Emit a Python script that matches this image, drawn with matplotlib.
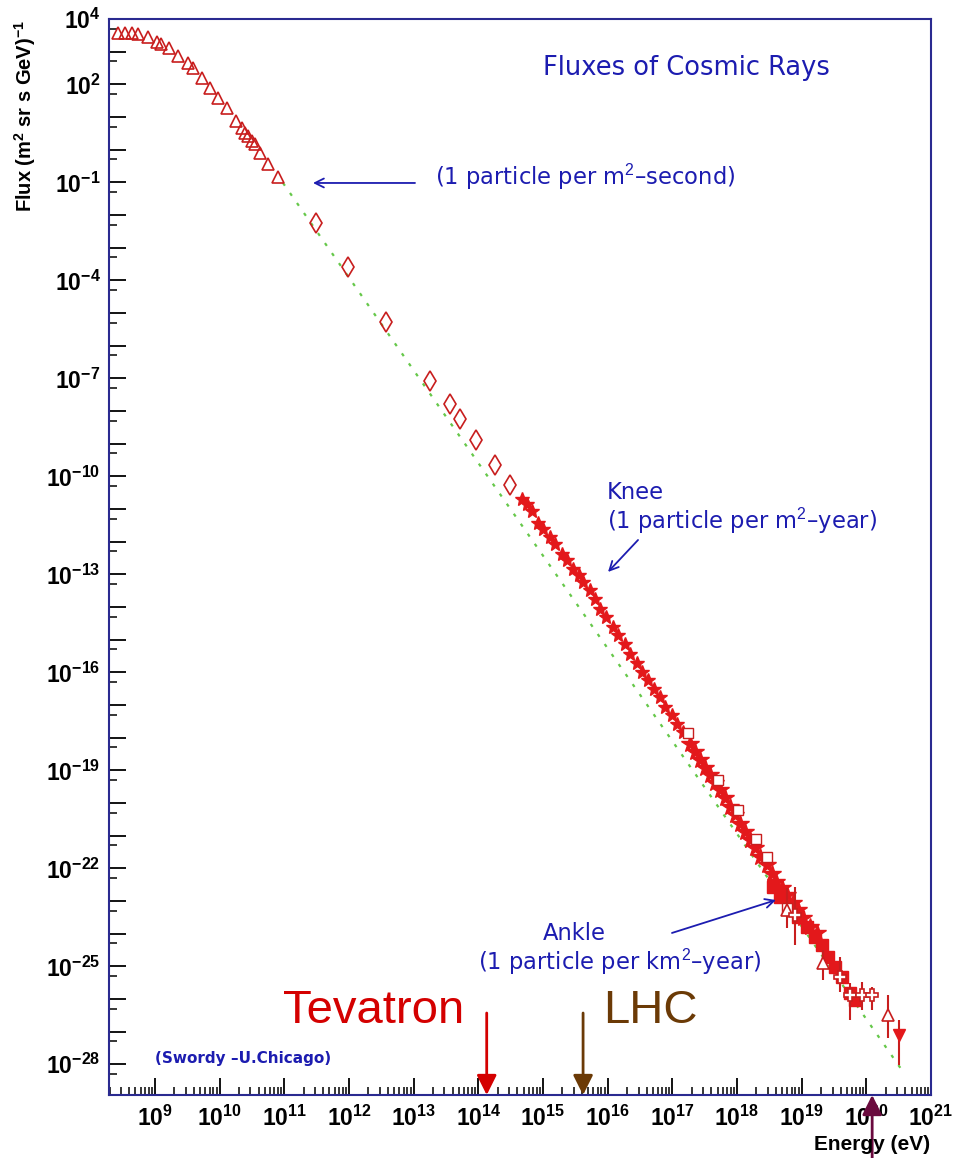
# Cosmic ray flux spectrum (Swordy style) with accelerator energies marked
import numpy as np
import matplotlib
matplotlib.use("Agg")
import matplotlib.pyplot as plt
from matplotlib.ticker import FixedLocator, LogLocator, FuncFormatter, NullFormatter

plt.rcParams['mathtext.fontset'] = 'custom'
plt.rcParams['mathtext.rm'] = 'Liberation Sans'
plt.rcParams['mathtext.it'] = 'Liberation Sans:italic'
plt.rcParams['mathtext.bf'] = 'Liberation Sans:bold'

# Data (log10 of energy in eV, log10 of flux) =====================================================
tri_logE = [8.43, 8.54, 8.64, 8.74, 8.90, 9.03, 9.10, 9.21, 9.36, 9.51, 9.59, 9.72, 9.85, 9.98,
            10.11, 10.26, 10.34, 10.39, 10.44, 10.50, 10.55, 10.62, 10.75, 10.91]
tri_logF = [3.58, 3.58, 3.56, 3.53, 3.45, 3.31, 3.23, 3.12, 2.87, 2.66, 2.51, 2.20, 1.90, 1.59,
            1.29, 0.88, 0.67, 0.52, 0.42, 0.27, 0.17, -0.09, -0.44, -0.85]

dia_logE = [11.49, 11.99, 12.57, 13.25, 13.56, 13.72, 13.96, 14.26, 14.49]
dia_logF = [-2.25, -3.58, -5.27, -7.07, -7.78, -8.26, -8.88, -9.64, -10.28]

star_logE = [14.67, 14.75, 14.83, 14.93, 15.00, 15.11, 15.19, 15.29, 15.37, 15.47, 15.55, 15.62,
             15.73, 15.80, 15.88, 15.98, 16.09, 16.16, 16.27, 16.35, 16.45, 16.53, 16.63, 16.71,
             16.81, 16.89, 16.99, 17.07, 17.17]
star_logF = [-10.69, -10.84, -11.05, -11.43, -11.61, -11.86, -12.06, -12.37, -12.57, -12.83,
             -13.03, -13.24, -13.49, -13.75, -14.05, -14.31, -14.61, -14.87, -15.12, -15.43,
             -15.73, -15.99, -16.24, -16.50, -16.76, -17.06, -17.31, -17.57, -17.83]

band_logE = [17.27, 17.35, 17.43, 17.50, 17.58, 17.66, 17.74, 17.81, 17.89, 17.97, 18.05, 18.12,
             18.20, 18.28, 18.36, 18.46, 18.54, 18.61, 18.69, 18.77, 18.87, 18.95, 19.02, 19.13,
             19.23]
band_logF = [-18.18, -18.44, -18.69, -18.94, -19.15, -19.40, -19.61, -19.86, -20.12, -20.37,
             -20.63, -20.88, -21.14, -21.39, -21.65, -21.90, -22.16, -22.41, -22.61, -22.82,
             -23.07, -23.28, -23.53, -23.79, -23.99]

band2_logE = [18.56, 18.66, 18.82, 18.95, 19.08, 19.21, 19.31, 19.41, 19.51, 19.62, 19.75, 19.82]
band2_logF = [-22.57, -22.87, -23.18, -23.48, -23.79, -24.09, -24.35, -24.71, -25.01, -25.32,
              -25.83, -26.03]

sq_logE = [17.25, 17.71, 18.02, 18.30, 18.46, 18.77]
sq_logF = [-17.87, -19.30, -20.22, -21.09, -21.65, -23.23]

ebtri_logE = [18.77, 19.33, 20.34]
ebtri_logF = [-23.28, -24.91, -26.49]
ebtri_lo = [-23.83, -25.42, -27.19]
ebtri_hi = [-22.61, -24.50, -25.88]

ebx_logE = [18.90, 19.59, 19.75, 19.93, 20.08]
ebx_logF = [-23.43, -25.32, -25.88, -25.88, -25.88]
ebx_lo = [-24.35, -25.78, -26.64, -26.34, -26.34]
ebx_hi = [-22.57, -24.71, -25.51, -25.47, -25.62]

last_logE = [20.51]
last_logF = [-27.10]
last_lo = [-28.02]
last_hi = [-26.64]

line_logE = [10.98, 20.6]
line_logF = [-1.02, -28.32]

accel_names = ['Tevatron', 'LHC']
accel_logE = [14.13, 15.62]
accel_colors = ['#d40000', '#6b3a06']
uhe_logE = 20.09

ylabel_decades = [4, 2, -1, -4, -7, -10, -13, -16, -19, -22, -25, -28]

# Styling =========================================================================================
red = '#e3181b'
dark_red = '#c81e1e'
blue = '#1c1cb0'
frame = '#2a2a90'


def p(vals):
    return 10.0 ** np.array(vals)


def errs(mid, lo, hi):
    m = p(mid)
    return [m - p(lo), p(hi) - m]


fig = plt.figure(figsize=(9.6, 11.58), dpi=100)
ax = fig.add_axes([0.1135, 0.0544, 0.8563, 0.9292])
ax.set_xscale('log')
ax.set_yscale('log')
ax.set_xlim(10 ** 8.289, 1e21)
ax.set_ylim(10 ** -28.94, 1e4)

ax.plot(p(line_logE), p(line_logF), color='#66c84a', lw=1.6, ls=(0, (1.5, 4)), zorder=1)

ax.plot(p(tri_logE), p(tri_logF), ls='none', marker='^', ms=9, mfc='none', mec=dark_red, mew=1.2, zorder=3)
ax.plot(p(dia_logE), p(dia_logF), ls='none', marker='d', ms=10, mfc='none', mec=dark_red, mew=1.2, zorder=3)
ax.plot(p(star_logE), p(star_logF), ls='none', marker='*', ms=10, color=red, zorder=3)
ax.plot(p(band_logE), p(band_logF), ls='none', marker='*', ms=13, color=red, zorder=3)
ax.plot(p(band2_logE), p(band2_logF), ls='none', marker='s', ms=8, color=red, zorder=3)
ax.plot(p(sq_logE), p(sq_logF), ls='none', marker='s', ms=7, mfc='white', mec=dark_red, mew=1.0, zorder=4)
ax.errorbar(p(ebtri_logE), p(ebtri_logF), yerr=errs(ebtri_logF, ebtri_lo, ebtri_hi), fmt='^', ms=9,
            mfc='white', mec=dark_red, mew=1.2, ecolor=dark_red, elinewidth=1.5, capsize=0, zorder=4)
ax.errorbar(p(ebx_logE), p(ebx_logF), yerr=errs(ebx_logF, ebx_lo, ebx_hi), fmt='P', ms=9,
            mfc='white', mec=dark_red, mew=1.2, ecolor=dark_red, elinewidth=1.5, capsize=0, zorder=4)
ax.errorbar(p(last_logE), p(last_logF), yerr=errs(last_logF, last_lo, last_hi), fmt='v', ms=8,
            color=red, ecolor=dark_red, elinewidth=1.5, capsize=0, zorder=4)

# Axes look (ROOT style) ==========================================================================
for s in ax.spines.values():
    s.set_color(frame)
    s.set_linewidth(1.5)

ax.xaxis.set_major_locator(FixedLocator(10.0 ** np.arange(9, 22)))
ax.xaxis.set_minor_locator(LogLocator(base=10, subs=np.arange(2, 10), numticks=200))
ax.xaxis.set_major_formatter(FuncFormatter(lambda v, pos: r'$\mathbf{10^{%d}}$' % round(np.log10(v))))
ax.xaxis.set_minor_formatter(NullFormatter())

ax.yaxis.set_major_locator(FixedLocator(10.0 ** np.arange(-28, 5)))
ax.yaxis.set_minor_locator(LogLocator(base=10, subs=[5], numticks=200))


def ylab(v, pos):
    k = int(round(np.log10(v)))
    return r'$\mathbf{10^{%d}}$' % k if k in ylabel_decades else ''


ax.yaxis.set_major_formatter(FuncFormatter(ylab))
ax.yaxis.set_minor_formatter(NullFormatter())
ax.tick_params(which='major', direction='in', length=12, width=1.3, color='black', labelsize=16.5, pad=6)
ax.tick_params(which='minor', direction='in', length=6, width=1.1, color='black')
ax.tick_params(axis='x', pad=8)

fig.text(0.026, 1 - 20 / 1158, r'Flux (m$^\mathbf{2}$ sr s GeV)$^{\mathbf{-1}}$', rotation=90,
         ha='center', va='top', fontsize=14.5, fontweight='bold', family='Liberation Sans')
fig.text(0.969, 1 - 1145 / 1158, 'Energy (eV)', ha='right', va='center', fontsize=15,
         fontweight='bold', family='Liberation Sans')

# Annotations =====================================================================================
tkw = dict(transform=ax.transAxes, color=blue, family='DejaVu Sans', va='center')
ax.text(0.528, 0.9545, 'Fluxes of Cosmic Rays', fontsize=18.5, **tkw)
ax.text(0.3966, 0.8532, '(1 particle per m$^2$\u2013second)', fontsize=16.3, **tkw)
ax.text(0.6058, 0.5604, 'Knee', fontsize=16.3, **tkw)
ax.text(0.6058, 0.5335, '(1 particle per m$^2$\u2013year)', fontsize=16.3, **tkw)
ax.text(0.5280, 0.1505, 'Ankle', fontsize=16.3, **tkw)
ax.text(0.4489, 0.1236, '(1 particle per km$^2$\u2013year)', fontsize=16.3, **tkw)
ax.text(0.0560, 0.0335, '(Swordy \u2013U.Chicago)', fontsize=11, fontweight='bold', **tkw)

akw = dict(arrowstyle='->', color=blue, lw=1.3, mutation_scale=16, shrinkA=0, shrinkB=0)
ax.annotate('', xy=(0.2482, 0.8476), xytext=(0.3723, 0.8476), xycoords='axes fraction', arrowprops=akw)
ax.annotate('', xy=(0.6071, 0.4861), xytext=(0.6436, 0.5158), xycoords='axes fraction', arrowprops=akw)
ax.annotate('', xy=(0.8114, 0.1812), xytext=(0.6849, 0.1506), xycoords='axes fraction', arrowprops=akw)

# accelerator markers
xtr = ax.get_xaxis_transform()
text_x = [0.2117, 0.601]
for name, le, c, tx in zip(accel_names, accel_logE, accel_colors, text_x):
    ax.annotate('', xy=(10 ** le, 0.0), xytext=(10 ** le, 0.0762), xycoords=xtr, textcoords=xtr,
                arrowprops=dict(arrowstyle='-|>', color=c, lw=2, mutation_scale=30, shrinkA=0, shrinkB=0),
                annotation_clip=False)
    ax.text(tx, 0.0669, name, transform=ax.transAxes, color=c, fontsize=34,
            family='Liberation Sans', va='baseline', ha='left')

ax.annotate('', xy=(10 ** uhe_logE, 0.0), xytext=(10 ** uhe_logE, -0.0586), xycoords=xtr, textcoords=xtr,
            arrowprops=dict(arrowstyle='-|>', color='#6a0a3e', lw=2, mutation_scale=30, shrinkA=0, shrinkB=0),
            annotation_clip=False, zorder=10)

fig.savefig('out.png', dpi=100, facecolor='white')
